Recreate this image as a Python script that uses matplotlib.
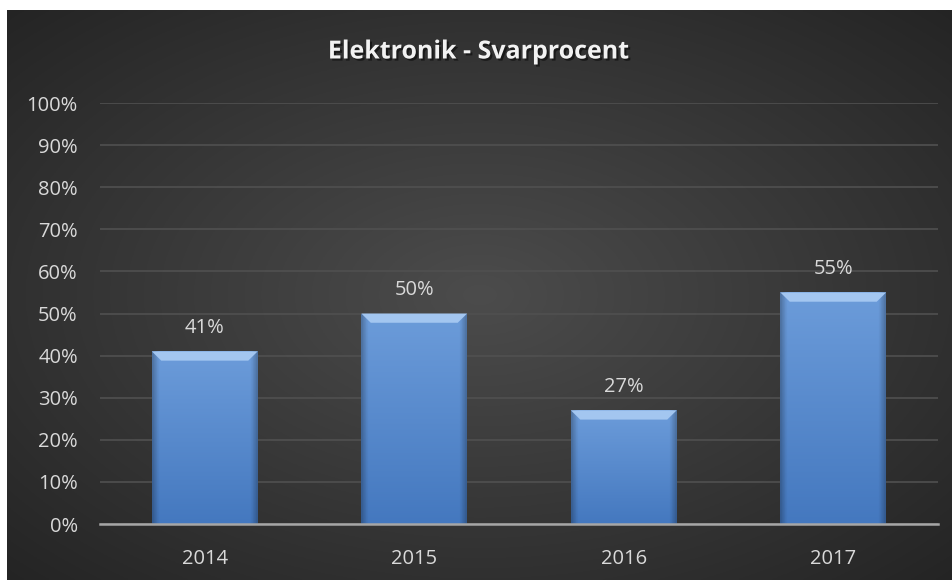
import matplotlib
matplotlib.use("Agg")
import matplotlib.pyplot as plt
import matplotlib.patheffects as pe
import numpy as np
from matplotlib.patches import Polygon

years = ["2014", "2015", "2016", "2017"]
svar = [0.41, 0.50, 0.27, 0.55]
yticks = [0.0, 0.1, 0.2, 0.3, 0.4, 0.5, 0.6, 0.7, 0.8, 0.9, 1.0]
title = "Elektronik - Svarprocent"

W, H = 953, 580
fig = plt.figure(figsize=(W / 100, H / 100), dpi=100, facecolor="white")

# mörk bakgrund med radiell gradient
bg = fig.add_axes([7 / W, 0, 1 - 7 / W, 570 / H])
bg.set_axis_off()
yy, xx = np.mgrid[0:1:300j, 0:1:500j]
r = np.sqrt(((xx - 0.5) / 0.75) ** 2 + ((yy - 0.5) / 0.75) ** 2)
r = np.clip(r / 0.95, 0, 1)
lo, hi = np.array([0x24, 0x24, 0x24]) / 255, np.array([0x4c, 0x4c, 0x4c]) / 255
img = hi[None, None, :] * (1 - r[..., None]) + lo[None, None, :] * r[..., None]
bg.imshow(img, extent=[0, 1, 0, 1], aspect="auto", origin="lower")
bg.set_xlim(0, 1)
bg.set_ylim(0, 1)

ax = fig.add_axes([100 / W, (H - 524) / H, (938 - 100) / W, (524 - 103) / H])
ax.patch.set_alpha(0)
x = np.arange(len(years))
bw = 0.505
bars = ax.bar(x, svar, width=bw, color="none", edgecolor="none", zorder=3)

# gradient i staplarna
grad = np.linspace(0, 1, 100)[:, None]
top_c = np.array([0x6c, 0x9c, 0xda]) / 255
bot_c = np.array([0x44, 0x78, 0xbf]) / 255
side = np.abs(np.linspace(-1, 1, 60))[None, :]
for b, v in zip(bars, svar):
    x0 = b.get_x()
    col = bot_c[None, None, :] * (1 - grad[..., None]) + top_c[None, None, :] * grad[..., None]
    shade = 1 - 0.25 * np.clip((side - 0.88) / 0.12, 0, 1)
    col = col * shade[..., None]
    im = ax.imshow(col, extent=[x0, x0 + bw, 0, v], origin="lower",
                   aspect="auto", zorder=3)
    im.set_clip_path(b)
    dx, dy = 0.045, 0.022
    bevel = Polygon([[x0, v], [x0 + bw, v], [x0 + bw - dx, v - dy], [x0 + dx, v - dy]],
                    closed=True, facecolor="#a3c6f0", edgecolor="none", zorder=4)
    ax.add_patch(bevel)
    ax.text(x0 + bw / 2, v + 0.032, f"{v:.0%}", ha="center", va="bottom",
            color="#d9d9d9", fontsize=14.5, family="Open Sans", zorder=5)

ax.set_xlim(-0.5, len(years) - 0.5)
ax.set_ylim(0, 1)
ax.set_yticks(yticks)
ax.set_yticklabels([f"{t:.0%}" for t in yticks])
ax.set_xticks(x)
ax.set_xticklabels(years)
ax.tick_params(length=0, colors="#d9d9d9", labelsize=14.5)
ax.tick_params(axis="y", pad=16)
ax.tick_params(axis="x", pad=18)
for lab in ax.get_xticklabels() + ax.get_yticklabels():
    lab.set_family("Open Sans")
ax.yaxis.grid(True, color="#505050", linewidth=1.2, zorder=0)
ax.set_axisbelow(True)
for s in ["top", "right", "left"]:
    ax.spines[s].set_visible(False)
ax.spines["bottom"].set_color("#a6a6a6")
ax.spines["bottom"].set_linewidth(1.8)
ax.spines["bottom"].set_zorder(6)

fig.text(479 / W, 1 - 52 / H, title, ha="center", va="center", color="#f2f2f2",
         fontsize=18, fontweight="bold", family="Open Sans",
         path_effects=[pe.withSimplePatchShadow(offset=(1.5, -1.5), shadow_rgbFace="black", alpha=0.5)])

fig.savefig("out.png", dpi=100, facecolor="white")
